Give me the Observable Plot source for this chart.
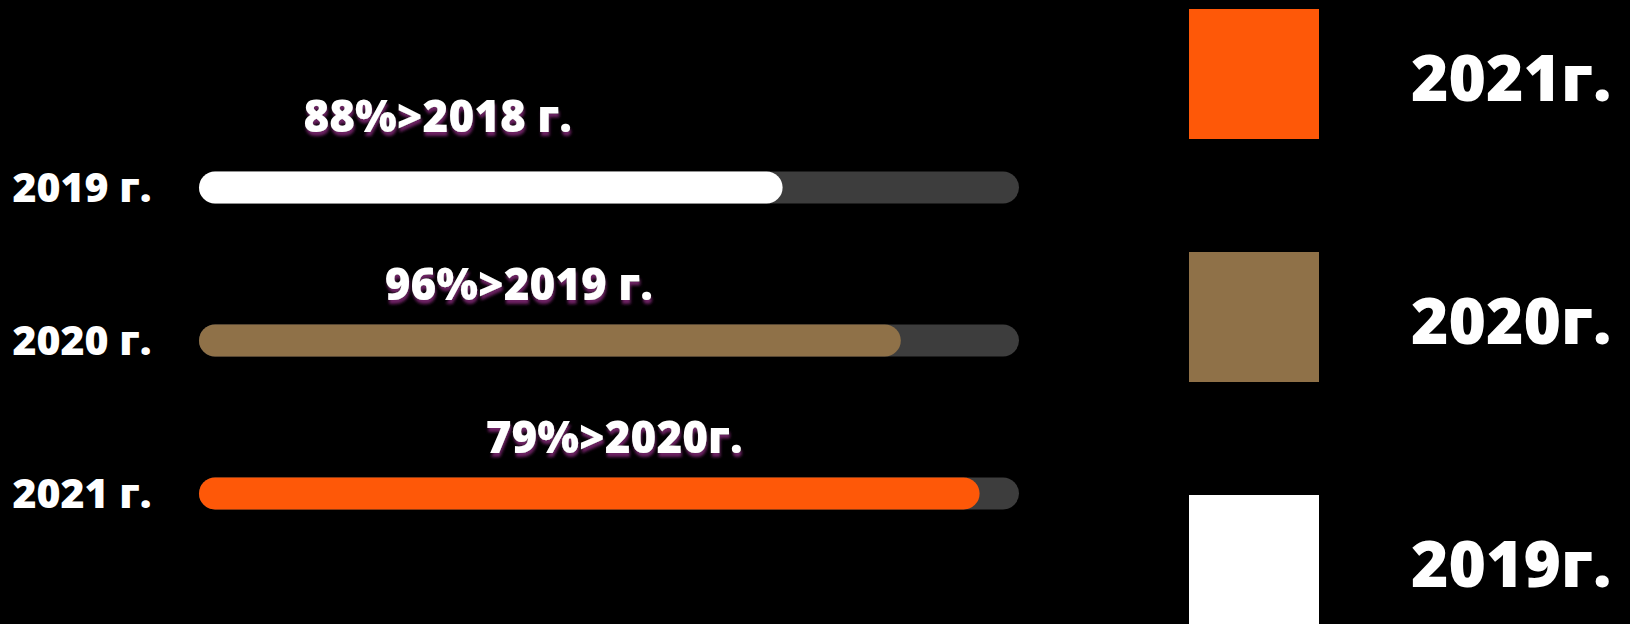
<!DOCTYPE html>
<html>
<head>
<meta charset="utf-8">
<script src="https://cdn.jsdelivr.net/npm/d3@7"></script>
<script src="https://cdn.jsdelivr.net/npm/@observablehq/plot@0.6"></script>
<style>
  html, body { margin: 0; padding: 0; background: #000; }
  #wrap { position: relative; width: 1630px; height: 624px; overflow: hidden; background: #000; font-family: "Open Sans", sans-serif; }
  #legend { position: absolute; left: 1189px; top: 9px; }
  .item { display: flex; align-items: center; height: 130px; margin-bottom: 113px; }
  .sw { width: 130px; height: 130px; flex: none; }
  .lab { margin-left: 92px; color: #fff; font-weight: 800; font-size: 64px; line-height: 1; padding-top: 6px; }
</style>
</head>
<body>
<div id="wrap"><div id="chart"></div><div id="legend"></div></div>
<script>
// Data
const categories = ["2019 г.", "2020 г.", "2021 г."];
const values = [70, 85, 95];            // bar fill, % of track
const annotations = ["88%>2018 г.", "96%>2019 г.", "79%>2020г."];
const legendLabels = ["2021г.", "2020г.", "2019г."];
const legendKeys = ["2021 г.", "2020 г.", "2019 г."];

const colors = {"2019 г.": "#ffffff", "2020 г.": "#8f7148", "2021 г.": "#fe5808"};
const annotationX = [28.2, 38.5, 50.6];
const annotationDy = [-70, -55, -55];

const rows = categories.map((c, i) => ({cat: c, value: values[i], note: annotations[i], nx: annotationX[i], ndy: annotationDy[i]}));

const marks = [
  Plot.ruleY(rows, {y: "cat", x1: 0, x2: 100, stroke: "#3d3d3d", strokeWidth: 32, strokeLinecap: "round"}),
  Plot.ruleY(rows, {y: "cat", x1: 0, x2: "value", stroke: d => colors[d.cat], strokeWidth: 32, strokeLinecap: "round"}),
  Plot.text(rows, {y: "cat", text: "cat", frameAnchor: "left", textAnchor: "start", dx: -187, dy: 1,
    fill: "#fff", fontSize: 41, fontWeight: 800, fontFamily: "Open Sans"})
];
rows.forEach(r => {
  marks.push(Plot.text([r], {x: "nx", y: "cat", text: "note", dy: r.ndy, fill: "#fff", fontSize: 44, fontWeight: 800,
    fontFamily: "Open Sans"}));
});

const chart = Plot.plot({
  width: 1630,
  height: 624,
  marginLeft: 199,
  marginRight: 611,
  marginTop: 0,
  marginBottom: 0,
  style: {background: "#000", color: "#fff", overflow: "visible"},
  x: {domain: [0, 100], insetLeft: 16, insetRight: 16, axis: null},
  y: {type: "point", domain: categories, range: [186.5, 492.5], padding: 0, axis: null},
  marks
});

// text shadow for the annotations
const svg = d3.select(chart);
const defs = svg.insert("defs", ":first-child");
const f = defs.append("filter").attr("id", "noteShadow").attr("x", "-10%").attr("y", "-30%").attr("width", "130%").attr("height", "170%");
f.append("feDropShadow").attr("dx", 1).attr("dy", 4).attr("stdDeviation", 1.5).attr("flood-color", "#6d2464").attr("flood-opacity", 1);
svg.selectAll("text").filter(function() { return annotations.includes(this.textContent); }).attr("filter", "url(#noteShadow)");

document.getElementById("chart").appendChild(chart);

const legend = d3.select("#legend");
legendKeys.forEach((k, i) => {
  const it = legend.append("div").attr("class", "item");
  it.append("div").attr("class", "sw").style("background", colors[k]);
  it.append("div").attr("class", "lab").text(legendLabels[i]);
});
</script>
</body>
</html>
